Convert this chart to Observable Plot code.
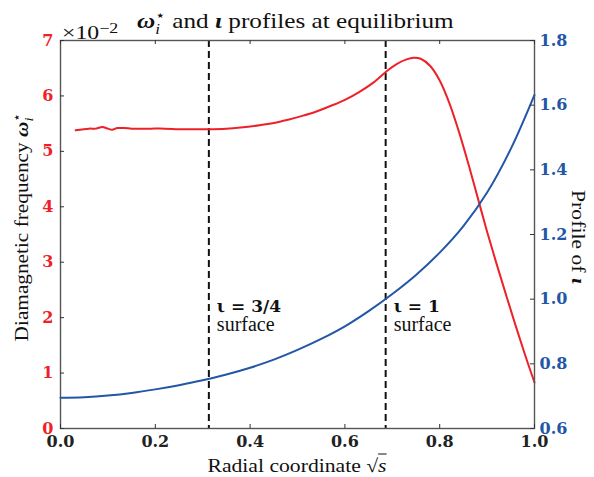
<!DOCTYPE html>
<html>
<head>
<meta charset="utf-8">
<script src="https://cdn.jsdelivr.net/npm/d3@7"></script>
<script src="https://cdn.jsdelivr.net/npm/@observablehq/plot@0.6"></script>
<style>
  body { margin: 0; background: #fff; }
  #chart { position: relative; width: 594px; height: 477px; font-family: "Liberation Serif", serif; color: #111; }
  #chart svg { position: absolute; left: 0; top: 0; }
  .lbl { position: absolute; white-space: nowrap; line-height: 1; }
  .bi { font-style: italic; font-weight: bold; }
  .it { font-style: italic; }
  .ss { display: inline-block; vertical-align: -0.38em; font-size: 0.68em; line-height: 0.95; text-align: left; }
  .ss span { display: block; }
</style>
</head>
<body>
<div id="chart">
  <div class="lbl" id="title" style="left:137px;top:9px;font-size:21px;transform-origin:0 50%;transform:scaleX(1.2);">
    <span class="bi">ω</span><span class="ss"><span>⋆</span><span class="it">i</span></span> and <span class="bi">ι</span> profiles at equilibrium
  </div>
  <div class="lbl" id="mult" style="left:62px;top:21px;font-size:19px;transform-origin:0 50%;transform:scaleX(1.25);">×10<sup style="font-size:0.75em;vertical-align:0.45em;">−2</sup></div>
  <div class="lbl" id="xlabel" style="left:297px;top:465px;font-size:19px;transform:translate(-50%,-50%) scaleX(1.14);">
    Radial coordinate √<span class="it" style="text-decoration:overline;">s</span>
  </div>
  <div class="lbl" id="ylabel" style="left:23px;top:227px;font-size:19px;transform:translate(-50%,-50%) rotate(-90deg) scaleX(1.12);">
    Diamagnetic frequency <span class="bi">ω</span><span class="ss"><span>⋆</span><span class="it">i</span></span>
  </div>
  <div class="lbl" id="y2label" style="left:578px;top:237px;font-size:19px;transform:translate(-50%,-50%) rotate(90deg) scaleX(1.14);">
    Profile of <span class="bi">ι</span>
  </div>
</div>
<script>
// Radial positions (√s) and diamagnetic frequency ω_i* (in units of 1e-2)
const omegaS = [0.032, 0.06, 0.075, 0.088, 0.10, 0.109, 0.12, 0.135, 0.15, 0.17, 0.19, 0.22, 0.25, 0.28, 0.31,
  0.35, 0.38, 0.42, 0.45, 0.48, 0.51, 0.54, 0.57, 0.60, 0.63, 0.66, 0.69, 0.71, 0.73, 0.745, 0.76, 0.78,
  0.80, 0.82, 0.84, 0.86, 0.88, 0.90, 0.92, 0.94, 0.96, 0.98, 1.00];
const omegaVal = [5.38, 5.41, 5.41, 5.44, 5.41, 5.39, 5.42, 5.42, 5.41, 5.41, 5.41, 5.41, 5.40, 5.40, 5.40,
  5.41, 5.43, 5.47, 5.51, 5.57, 5.64, 5.72, 5.82, 5.93, 6.07, 6.24, 6.46, 6.58, 6.66, 6.69, 6.67, 6.54,
  6.28, 5.88, 5.37, 4.79, 4.17, 3.55, 2.97, 2.41, 1.86, 1.33, 0.83];

// Rotational transform ι profile
const iotaS = [0.00, 0.05, 0.10, 0.15, 0.20, 0.25, 0.30, 0.35, 0.40, 0.45, 0.50, 0.55, 0.60, 0.65, 0.70,
  0.75, 0.80, 0.85, 0.90, 0.95, 1.00];
const iotaVal = [0.695, 0.697, 0.702, 0.710, 0.721, 0.734, 0.749, 0.767, 0.788, 0.813, 0.843, 0.877, 0.916,
  0.963, 1.016, 1.075, 1.144, 1.226, 1.330, 1.465, 1.632];

// Rational surfaces
const surfaceS = [0.313, 0.686];
const surfaceLabel = ["ι = 3/4", "ι = 1"];

// Tick values
const xTicks = [0, 0.2, 0.4, 0.6, 0.8, 1.0];
const omegaTicks = [0, 1, 2, 3, 4, 5, 6, 7];
const iotaTicks = [0.6, 0.8, 1.0, 1.2, 1.4, 1.6, 1.8];

const omegaData = omegaS.map((s, i) => ({s, w: omegaVal[i]}));
const iotaData = iotaS.map((s, i) => ({s, iota: iotaVal[i]}));
const surfaces = surfaceS.map((s, i) => ({s, label: surfaceLabel[i]}));

const RED = "#ee2128";
const BLUE = "#2356a6";
const W = 594, H = 477;
const mL = 60, mR = 60, mT = 40, mB = 49;
const fh = H - mT - mB, fw = W - mL - mR;
const tick = 4;

const common = {
  width: W, height: H,
  marginLeft: mL, marginRight: mR, marginTop: mT, marginBottom: mB,
  style: {fontFamily: "DejaVu Serif", fontSize: "16px", background: "transparent", overflow: "visible"}
};

// ω_i* on the left axis, with the rational-surface markers
const leftPlot = Plot.plot({
  ...common,
  x: {domain: [0, 1]},
  y: {domain: [0, 7]},
  marks: [
    Plot.ruleX(surfaces, {x: "s", stroke: "#111", strokeWidth: 2, strokeDasharray: "7,4"}),
    Plot.line(omegaData, {x: "s", y: "w", stroke: RED, strokeWidth: 2, curve: "catmull-rom"}),
    Plot.frame({stroke: "#555", strokeWidth: 1.4}),
    Plot.ruleX(xTicks, {x: d => d, insetTop: fh - tick, stroke: "#333"}),
    Plot.ruleX(xTicks, {x: d => d, insetBottom: fh - tick, stroke: "#333"}),
    Plot.ruleY(omegaTicks, {y: d => d, insetRight: fw - tick, stroke: "#333"}),
    Plot.axisX(xTicks, {anchor: "bottom", tickSize: 0, tickPadding: 7, tickFormat: d3.format(".1f"),
      fontWeight: "bold", fill: "#222", label: null}),
    Plot.axisY(omegaTicks, {anchor: "left", tickSize: 0, tickPadding: 7, tickFormat: d3.format("d"),
      fontWeight: "bold", fill: RED, label: null}),
    Plot.text(surfaces, {x: "s", text: "label", frameAnchor: "bottom", textAnchor: "start",
      dx: 8, dy: -117, fontWeight: "bold", fontSize: 17, fill: "#111"}),
    Plot.text(surfaces, {x: "s", text: () => "surface", frameAnchor: "bottom", textAnchor: "start",
      dx: 8, dy: -98, fontFamily: "Liberation Serif", fontSize: 20, fill: "#111"})
  ]
});

// ι on the right axis
const rightPlot = Plot.plot({
  ...common,
  x: {domain: [0, 1], axis: null},
  y: {domain: [0.6, 1.8]},
  marks: [
    Plot.line(iotaData, {x: "s", y: "iota", stroke: BLUE, strokeWidth: 2, curve: "catmull-rom"}),
    Plot.ruleY(iotaTicks, {y: d => d, insetLeft: fw - tick, stroke: "#333"}),
    Plot.axisY(iotaTicks, {anchor: "right", tickSize: 0, tickPadding: 5, tickFormat: d3.format(".1f"),
      fontWeight: "bold", fill: BLUE, label: null})
  ]
});

const chart = document.getElementById("chart");
chart.insertBefore(rightPlot, chart.firstChild);
chart.insertBefore(leftPlot, chart.firstChild);
</script>
</body>
</html>
